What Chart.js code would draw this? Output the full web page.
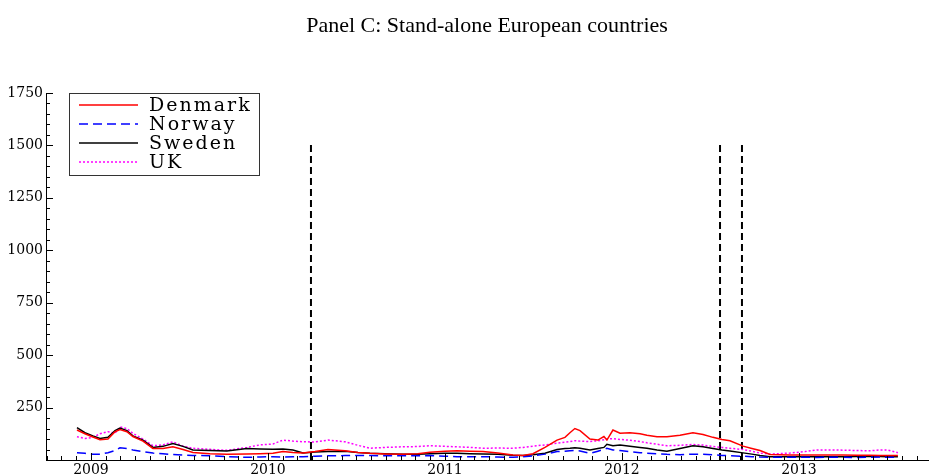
<!DOCTYPE html>
<html>
<head>
<meta charset="utf-8">
<script src="https://cdn.jsdelivr.net/npm/chart.js@4.4.1/dist/chart.umd.min.js"></script>
<style>
  body { margin: 0; background: #fff; }
  #wrap { width: 930px; height: 475px; }
</style>
</head>
<body>
<div id="wrap"><canvas id="myChart" width="930" height="475"></canvas></div>
<script>
// dates as decimal years
const dates = [
  2008.921, 2008.966, 2009.011, 2009.051, 2009.096, 2009.136, 2009.164, 2009.203, 2009.237, 2009.294,
  2009.350, 2009.407, 2009.463, 2009.520, 2009.576, 2009.672, 2009.768, 2009.881, 2009.955, 2010.028,
  2010.085, 2010.141, 2010.198, 2010.266, 2010.339, 2010.435, 2010.508, 2010.576, 2010.661, 2010.763,
  2010.847, 2010.915, 2011.000, 2011.068, 2011.141, 2011.215, 2011.299, 2011.384, 2011.441, 2011.497,
  2011.565, 2011.633, 2011.678, 2011.706, 2011.734, 2011.763, 2011.819, 2011.864, 2011.898, 2011.915,
  2011.949, 2011.989, 2012.045, 2012.102, 2012.141, 2012.198, 2012.254, 2012.328, 2012.401, 2012.458,
  2012.514, 2012.565, 2012.610, 2012.684, 2012.734, 2012.780, 2012.836, 2012.949, 2013.034, 2013.102,
  2013.175, 2013.249, 2013.328, 2013.401, 2013.458, 2013.497, 2013.559
]

const denmark = [
  143, 125, 110, 97, 100, 135, 145, 135, 112, 90,
  55, 55, 63, 50, 36, 30, 27, 29, 30, 32,
  40, 36, 33, 40, 50, 44, 36, 32, 29, 27,
  30, 37, 42, 44, 42, 40, 33, 24, 22, 30,
  60, 95, 108, 130, 150, 140, 100, 95, 112, 95,
  143, 128, 130, 125, 118, 111, 111, 118, 130, 122,
  108, 98, 92, 66, 55, 45, 26, 24, 24, 24,
  24, 24, 23, 23, 22, 22, 21
]

const norway = [
  35, 32, 28, 27, 35, 45, 58, 55, 48, 40,
  33, 30, 26, 24, 22, 20, 16, 13, 14, 16,
  14, 15, 16, 18, 20, 21, 22, 21, 20, 21,
  20, 21, 18, 16, 15, 16, 14, 13, 15, 20,
  28, 40, 42, 44, 45, 43, 32, 42, 50, 56,
  48, 45, 40, 35, 32, 30, 27, 25, 28, 27,
  25, 22, 20, 18, 16, 14, 13, 13, 13, 12,
  13, 13, 12, 13, 14, 13, 13
]

const sweden = [
  154, 130, 115, 103, 108, 140, 152, 140, 115, 95,
  60, 65, 79, 65, 48, 45, 43, 55, 53, 51,
  52, 48, 33, 38, 40, 42, 36, 32, 30, 27,
  27, 30, 32, 32, 30, 29, 27, 23, 22, 25,
  32, 50, 55, 56, 58, 56, 48, 55, 60, 75,
  68, 72, 66, 60, 56, 48, 42, 55, 68, 63,
  55, 48, 43, 34, 28, 22, 16, 16, 16, 16,
  16, 16, 17, 18, 17, 16, 16
]

const uk = [
  111, 103, 108, 125, 135, 128, 158, 150, 127, 100,
  68, 72, 87, 66, 56, 51, 46, 60, 72, 76,
  95, 90, 87, 86, 95, 87, 70, 56, 60, 63,
  64, 68, 65, 63, 60, 56, 57, 56, 60, 66,
  72, 80, 85, 88, 92, 90, 88, 92, 96, 100,
  102, 98, 94, 88, 82, 75, 68, 70, 74, 71,
  64, 60, 56, 50, 42, 33, 28, 33, 40, 48,
  48, 47, 45, 44, 48, 48, 35
]

// dashed event lines
const eventDates = [2010.243, 2012.554, 2012.678]
const eventTop = 1510

const yearTicks = [2009, 2010, 2011, 2012, 2013]
const yTicks = [250, 500, 750, 1000, 1250, 1500, 1750]

const serif = '"DejaVu Serif", "Liberation Serif", serif'

function toPoints(values){
  return values.map((v, i)=>{
    return {x: dates[i], y: v}
  })
}

const seriesSets = [
  {label: 'Denmark', data: toPoints(denmark), borderColor: '#ff0000', borderWidth: 1.5, borderDash: []},
  {label: 'Norway', data: toPoints(norway), borderColor: '#0000ff', borderWidth: 1.5, borderDash: [9, 5]},
  {label: 'Sweden', data: toPoints(sweden), borderColor: '#000000', borderWidth: 1.5, borderDash: []},
  {label: 'UK', data: toPoints(uk), borderColor: '#ff00ff', borderWidth: 1.5, borderDash: [2, 2]}
]

const eventSets = eventDates.map((d)=>{
  return {
    label: 'event',
    data: [{x: d, y: 0}, {x: d, y: eventTop}],
    borderColor: '#000000',
    borderWidth: 2,
    borderDash: [7, 4]
  }
})

// title, inward ticks and the boxed legend
const decorPlugin = {
  id: 'decor',
  afterDraw(chart){
    const ctx = chart.ctx
    const xs = chart.scales.x
    const ys = chart.scales.y
    const area = chart.chartArea
    ctx.save()

    ctx.fillStyle = '#000'
    ctx.font = '22px "Liberation Serif", serif'
    ctx.textAlign = 'center'
    ctx.textBaseline = 'alphabetic'
    ctx.fillText('Panel C: Stand-alone European countries', (area.left + area.right) / 2, 32)

    ctx.strokeStyle = '#000'
    ctx.lineWidth = 1
    ctx.beginPath()
    for (let m = Math.ceil(xs.min * 12); m <= xs.max * 12; m++) {
      const px = Math.round(xs.getPixelForValue(m / 12)) + 0.5
      const len = m % 12 === 0 ? 7 : 4
      ctx.moveTo(px, area.bottom)
      ctx.lineTo(px, area.bottom - len)
    }
    for (let v = 50; v <= ys.max; v += 50) {
      const py = Math.round(ys.getPixelForValue(v)) + 0.5
      const len = v % 250 === 0 ? 7 : 4
      ctx.moveTo(area.left, py)
      ctx.lineTo(area.left + len, py)
    }
    ctx.stroke()

    // legend box
    const bx = 69, by = 93, bw = 190, bh = 82
    ctx.strokeStyle = '#333'
    ctx.strokeRect(bx + 0.5, by + 0.5, bw, bh)
    ctx.font = '19px ' + serif
    ctx.letterSpacing = '2px'
    ctx.textAlign = 'left'
    ctx.textBaseline = 'middle'
    seriesSets.forEach((ds, i)=>{
      const ly = by + 12 + i * 19
      ctx.strokeStyle = ds.borderColor
      ctx.lineWidth = ds.borderWidth
      ctx.setLineDash(ds.borderDash)
      ctx.beginPath()
      ctx.moveTo(bx + 10, ly)
      ctx.lineTo(bx + 69, ly)
      ctx.stroke()
      ctx.setLineDash([])
      ctx.fillStyle = '#000'
      ctx.fillText(ds.label, bx + 80, ly + 1)
    })
    ctx.restore()
  }
}

const chart = new Chart(document.getElementById('myChart').getContext('2d'), {
  type: 'line',
  data: {
    datasets: [...seriesSets, ...eventSets]
  },
  options: {
    responsive: false,
    animation: false,
    devicePixelRatio: 1,
    layout: {
      padding: {left: 0, right: 2, top: 93, bottom: 0}
    },
    elements: {
      point: {radius: 0},
      line: {tension: 0, fill: false}
    },
    plugins: {
      legend: {display: false},
      title: {display: false},
      tooltip: {enabled: false}
    },
    scales: {
      x: {
        type: 'linear',
        min: 2008.746,
        max: 2013.729,
        afterBuildTicks: (scale)=>{
          scale.ticks = yearTicks.map((v)=>({value: v}))
        },
        afterFit: (scale)=>{
          scale.height = 15
        },
        grid: {display: false, drawTicks: false},
        border: {display: true, color: '#000', width: 1},
        ticks: {
          color: '#000',
          padding: 2,
          maxRotation: 0,
          font: {family: serif, size: 14},
          callback: (v)=>String(v)
        }
      },
      y: {
        min: 0,
        max: 1750,
        afterBuildTicks: (scale)=>{
          scale.ticks = yTicks.map((v)=>({value: v}))
        },
        afterFit: (scale)=>{
          scale.width = 46
        },
        grid: {display: false, drawTicks: false},
        border: {display: true, color: '#000', width: 1},
        ticks: {
          color: '#000',
          padding: 3,
          font: {family: serif, size: 14},
          callback: (v)=>String(v)
        }
      }
    }
  },
  plugins: [decorPlugin]
})
</script>
</body>
</html>
